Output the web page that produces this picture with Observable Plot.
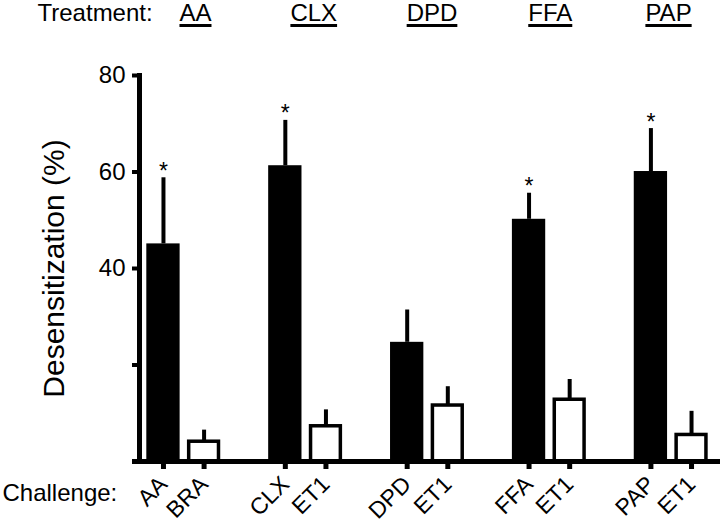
<!DOCTYPE html>
<html>
<head>
<meta charset="utf-8">
<script src="https://cdn.jsdelivr.net/npm/d3@7"></script>
<script src="https://cdn.jsdelivr.net/npm/@observablehq/plot@0.6"></script>
<style>
  html, body { margin: 0; padding: 0; background: #fff; }
  svg { display: block; }
</style>
</head>
<body>
<script>
// ---- Data ----
const treatments = ["AA", "CLX", "DPD", "FFA", "PAP"];
const challengeA = ["AA", "CLX", "DPD", "FFA", "PAP"];
const challengeB = ["BRA", "ET1", "ET1", "ET1", "ET1"];
const treatMean = [45.1, 61.3, 24.7, 50.2, 60.1];
const treatSem  = [13.7, 9.4, 6.7, 5.4, 8.9];
const ctrlMean  = [4.1, 7.3, 11.6, 12.8, 5.5];
const ctrlSem   = [2.4, 3.4, 3.9, 4.2, 4.9];
const significant = [true, true, false, true, true];
const yTicks = [0, 20, 40, 60, 80];
const yTickLabels = ["", "", "40", "60", "80"];

const FONT = "'Liberation Sans', Arial, Helvetica, sans-serif";

// ---- Build table ----
const rows = [];
treatments.forEach((t, i) => {
  rows.push({key: t + "|0", treatment: t, challenge: challengeA[i], mean: treatMean[i], sem: treatSem[i], kind: "treat", sig: significant[i]});
  rows.push({key: t + "|1", treatment: t, challenge: challengeB[i], mean: ctrlMean[i], sem: ctrlSem[i], kind: "ctrl", sig: false});
});
const keys = [];
treatments.forEach((t, i) => {
  keys.push(t + "|0", t + "|1");
  if (i < treatments.length - 1) keys.push(t + "|gap");
});
const barKeys = rows.map(d => d.key);
const labelOf = new Map(rows.map(d => [d.key, d.challenge]));

// ---- Header (Treatment row) ----
const header = Plot.plot({
  width: 720,
  height: 40,
  marginTop: 0,
  marginBottom: 0,
  marginLeft: 159.5,
  marginRight: 16.5,
  style: {fontFamily: FONT, background: "white", color: "black"},
  x: {type: "point", domain: treatments, padding: 0.3, round: false, axis: null},
  marks: [
    Plot.text(["Treatment:"], {frameAnchor: "left", textAnchor: "start", lineAnchor: "bottom", dx: -122.5, fontSize: 24, fill: "black"}),
    Plot.text(treatments, {x: d => d, lineAnchor: "bottom", fontSize: 24, fill: "black", ariaDescription: "treatment-header"})
  ]
});

// ---- Main chart ----
const chart = Plot.plot({
  width: 720,
  height: 483,
  marginTop: 35,
  marginBottom: 62,
  marginLeft: 139,
  marginRight: 5,
  style: {fontFamily: FONT, background: "white", color: "black"},
  x: {type: "band", domain: keys, padding: 0.18, round: false},
  y: {domain: [0, 80]},
  marks: [
    Plot.barY(rows.filter(d => d.kind === "treat"), {x: "key", y: "mean", fill: "black"}),
    Plot.barY(rows.filter(d => d.kind === "ctrl"), {x: "key", y: "mean", fill: "white", stroke: "black", strokeWidth: 3.5, insetLeft: 1.75, insetRight: 1.75}),
    Plot.ruleX(rows, {x: "key", y1: "mean", y2: d => d.mean + d.sem, stroke: "black", strokeWidth: 4}),
    Plot.text(rows.filter(d => d.sig), {x: "key", y: d => d.mean + d.sem, text: d => "*", fontSize: 23, lineAnchor: "bottom", dy: 1, fill: "black"}),
    Plot.ruleY([0], {stroke: "black", strokeWidth: 5, insetLeft: -7, insetRight: -5}),
    Plot.frame({anchor: "left", stroke: "black", strokeWidth: 5}),
    Plot.axisY({ticks: yTicks, tickSize: 7, tickPadding: 7, strokeWidth: 4, tickFormat: d => yTickLabels[yTicks.indexOf(d)], fontSize: 24, label: null}),
    Plot.axisX({ticks: barKeys, tickFormat: k => labelOf.get(k), tickRotate: -45, tickSize: 8, tickPadding: 11, strokeWidth: 5, fontSize: 23, label: null}),
    Plot.text(["Desensitization (%)"], {frameAnchor: "left", textAnchor: "middle", rotate: -90, dx: -76, lineAnchor: "bottom", fontSize: 30, fill: "black"}),
    Plot.text(["Challenge:"], {frameAnchor: "bottom-left", textAnchor: "start", lineAnchor: "bottom", dx: -137, dy: 39, fontSize: 24, fill: "black"})
  ]
});

document.body.append(header);
document.body.append(chart);

// underline treatment names
d3.select(header).selectAll('g[aria-description="treatment-header"] text').each(function() {
  const b = this.getBBox();
  d3.select(this.parentNode).append("rect")
    .attr("transform", this.getAttribute("transform"))
    .attr("x", b.x)
    .attr("y", b.y + b.height - 1.5)
    .attr("width", b.width)
    .attr("height", 3)
    .attr("fill", "black");
});
</script>
</body>
</html>
